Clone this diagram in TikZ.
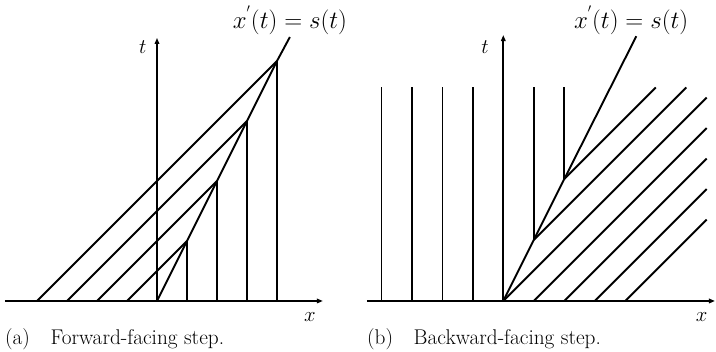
\documentclass[tikz,border=0pt]{standalone}
\usetikzlibrary{arrows.meta}
\begin{document}
\begin{tikzpicture}[x=1pt,y=1pt,
  line/.style={line width=1.9pt},
  thinline/.style={line width=1.5pt},
  axis/.style={line width=1.9pt,-{Triangle[length=6pt,width=4.5pt]}},
  lab/.style={font=\fontsize{22}{26}\selectfont, inner sep=0pt},
  formula/.style={font=\fontsize{23}{28}\selectfont, inner sep=0pt},
  captext/.style={font=\fontsize{21.3}{25}\selectfont, inner sep=0pt, anchor=west}]
\useasboundingbox (0,0) rectangle (716,352);
% ---------------- (a) forward-facing step
\begin{scope}[shift={(157pt,51pt)},x=30pt,y=30pt]
  \coordinate (aO) at (0,0);
  \coordinate (aXl) at (-5.07,0);
  \coordinate (aXr) at (5.53,0);
  \coordinate (aT) at (0,8.77);
  \coordinate (aSe) at (4.43,8.8);
  \foreach \k in {1,...,4}{
    \coordinate (aS\k) at (\k,2*\k);
    \coordinate (aB\k) at (\k,0);
    \coordinate (aD\k) at (-\k,0);
  }
  \draw[axis] (aXl) -- (aXr);
  \draw[axis] (aO) -- (aT);
  \draw[line] (aO) -- (aS1) -- (aS2) -- (aS3) -- (aS4) -- (aSe);
  \foreach \k in {1,...,4}{
    \draw[line] (aB\k) -- (aS\k);
    \draw[line] (aD\k) -- (aS\k);
  }
  \node[lab] (at) at (-0.47,8.47) {$t$};
  \node[lab] (ax) at (5.1,-0.53) {$x$};
  \node[formula] (as) at (4.43,9.36) {$x^{'}(t)=s(t)$};
  \node[captext] (acap) at (-5.07,-1.28) {(a)\enspace\, Forward-facing step.};
\end{scope}
% ---------------- (b) backward-facing step
\begin{scope}[shift={(503.3pt,51pt)},x=30.5pt,y=30.5pt]
  \coordinate (bO) at (0,0);
  \coordinate (bXl) at (-4.47,0);
  \coordinate (bXr) at (6.94,0);
  \coordinate (bT) at (0,8.72);
  \coordinate (bSe) at (4.36,8.68);
  \coordinate (bS1) at (1,2);
  \coordinate (bS2) at (2,4);
  \draw[axis] (bXl) -- (bXr);
  \draw[axis] (bO) -- (bT);
  \foreach \k in {-4,...,-1}{
    \coordinate (bL\k) at (\k,0);
    \coordinate (bU\k) at (\k,7);
    \draw[thinline] (bL\k) -- (bU\k);
  }
  \coordinate (bV1) at (1,7);
  \coordinate (bV2) at (2,7);
  \draw[line] (bS1) -- (bV1);
  \draw[line] (bS2) -- (bV2);
  \draw[line] (bO) -- (bS1) -- (bS2) -- (bSe);
  \coordinate (bE2) at (5,7);
  \coordinate (bE1) at (6,7);
  \coordinate (bE0) at (6.67,6.67);
  \draw[line] (bS2) -- (bE2);
  \draw[line] (bS1) -- (bE1);
  \draw[line] (bO) -- (bE0);
  \foreach \k in {1,...,4}{
    \coordinate (bA\k) at (\k,0);
    \coordinate (bF\k) at (6.67,6.67-\k);
    \draw[line] (bA\k) -- (bF\k);
  }
  \node[lab] (bt) at (-0.6,8.33) {$t$};
  \node[lab] (bx) at (6.5,-0.52) {$x$};
  \node[formula] (bs) at (4.19,9.2) {$x^{'}(t)=s(t)$};
  \node[captext] (bcap) at (-4.47,-1.26) {(b)\enspace\, Backward-facing step.};
\end{scope}
\end{tikzpicture}
\end{document}
